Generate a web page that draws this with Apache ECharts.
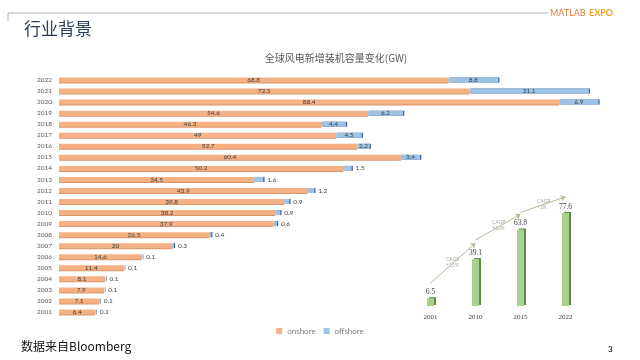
<!DOCTYPE html>
<html><head><meta charset="utf-8">
<script src="https://cdn.jsdelivr.net/npm/echarts@6/dist/echarts.min.js"></script>
<style>html,body{margin:0;padding:0;background:#fff}#c{width:640px;height:360px}</style>
</head><body><div id="c"></div>
<script>
const years = ['2001','2002','2003','2004','2005','2006','2007','2008','2009','2010','2011','2012','2013','2014','2015','2016','2017','2018','2019','2020','2021','2022'];
const onshore = [6.4,7.1,7.9,8.1,11.4,14.6,20,26.5,37.9,38.2,39.8,43.9,34.5,50.2,60.4,52.7,49,46.3,54.6,88.4,72.5,68.8];
const offshore = [0.1,0.1,0.1,0.1,0.1,0.1,0.3,0.4,0.6,0.9,0.9,1.2,1.6,1.5,3.4,2.2,4.5,4.4,6.2,6.9,21.1,8.8];
const insetYears = ['2001','2010','2015','2022'];
const insetValues = [6.5,39.1,63.8,77.6];
const cagrLabels = ['CAGR\n+22%','CAGR\n+10%','CAGR\n+3%'];

const chart = echarts.init(document.getElementById('c'));
const latin = 'Lato, "Noto Sans CJK SC", sans-serif';
chart.setOption({
  animation:false,
  backgroundColor:'#fff',
  title:{text:'全球风电新增装机容量变化(GW)',left:331,textAlign:'center',top:48,
    textStyle:{fontSize:10,fontWeight:'normal',color:'#595959',fontFamily:'"Noto Sans CJK SC", sans-serif'}},
  legend:{bottom:20,left:'center',itemWidth:6,itemHeight:6,itemGap:8,icon:'rect',
    textStyle:{fontSize:8,color:'#7f7f7f',fontFamily:latin},data:['onshore','offshore']},
  grid:[
    {left:59,width:566,top:74.5,height:243},
    {left:408,width:180,top:186,height:120}
  ],
  xAxis:[
    {type:'value',gridIndex:0,min:0,max:100,show:false},
    {type:'category',gridIndex:1,data:insetYears,axisLine:{show:false},axisTick:{show:false},
      axisLabel:{fontSize:7,color:'#404040',margin:8,fontFamily:'"Liberation Serif", serif'}}
  ],
  yAxis:[
    {type:'category',gridIndex:0,data:years,axisLine:{show:false},axisTick:{show:false},
      axisLabel:{fontSize:6.5,color:'#595959',margin:7,fontFamily:latin}},
    {type:'value',gridIndex:1,min:0,max:100,show:false}
  ],
  series:[
    {name:'onshore',type:'bar',stack:'s',xAxisIndex:0,yAxisIndex:0,barWidth:5,
      itemStyle:{color:'#F4B183',shadowColor:'#d9966a',shadowOffsetY:1,shadowBlur:0},
      label:{show:true,position:'inside',fontSize:6.5,color:'#404040',fontFamily:latin},
      data:onshore},
    {name:'offshore',type:'bar',stack:'s',xAxisIndex:0,yAxisIndex:0,barWidth:5,
      itemStyle:{color:'#9DC3E6',shadowColor:'#3f5f94',shadowOffsetX:1.2,shadowBlur:0},
      label:{show:true,fontSize:6.5,color:'#404040',fontFamily:latin},
      data:offshore.map(v=>({value:v,label:{position:v>=2?'inside':'right',distance:4}}))},
    {name:'inset',type:'bar',xAxisIndex:1,yAxisIndex:1,barWidth:7,
      itemStyle:{color:'#A9D18E',shadowColor:'#5e8a43',shadowOffsetX:2,shadowOffsetY:-1,shadowBlur:0},
      label:{show:true,position:'top',distance:2,fontSize:7.5,color:'#404040',fontFamily:'"Liberation Serif", serif'},
      data:insetValues,
      markLine:{silent:true,symbol:['none','arrow'],symbolSize:5,
        lineStyle:{color:'#b8b890',width:1,type:'solid',curveness:-0.1},
        label:{show:false},
        data:[
          [{coord:[0.05,19]},{coord:[0.85,52.5]}],
          [{coord:[1.05,55]},{coord:[1.9,76.5]}],
          [{coord:[2.1,78]},{coord:[2.97,91]}]
        ]}}
  ],
  graphic:[
    {type:'line',shape:{x1:8,y1:13,x2:548,y2:13},style:{stroke:'#aab3c2',lineWidth:1}},
    {type:'line',shape:{x1:8,y1:13,x2:8,y2:21},style:{stroke:'#aab3c2',lineWidth:1}},
    {type:'text',left:550,top:7,style:{text:'{a|MATLAB} {b|EXPO}',rich:{
      a:{fontSize:9,fill:'#e07b39',fontFamily:latin},
      b:{fontSize:9,fill:'#f0a020',fontWeight:'bold',fontFamily:latin}}}},
    {type:'text',left:24,top:20,style:{text:'行业背景',fontSize:17,fill:'#2b4058',fontFamily:'"Noto Sans CJK SC", sans-serif'}},
    {type:'text',left:21,top:340,style:{text:'数据来自Bloomberg',fontSize:12,fill:'#111',fontFamily:'"Noto Sans CJK SC", sans-serif'}},
    {type:'text',left:608,top:345,style:{text:'3',fontSize:8,fontWeight:'bold',fill:'#333',fontFamily:latin}},
    {type:'text',left:446,top:256,style:{text:cagrLabels[0],fontSize:5,fill:'#aaaaaa',align:'center',lineHeight:6,fontFamily:latin}},
    {type:'text',left:492,top:219,style:{text:cagrLabels[1],fontSize:5,fill:'#aaaaaa',align:'center',lineHeight:6,fontFamily:latin}},
    {type:'text',left:537,top:198,style:{text:cagrLabels[2],fontSize:5,fill:'#aaaaaa',align:'center',lineHeight:6,fontFamily:latin}}
  ]
});
</script></body></html>
